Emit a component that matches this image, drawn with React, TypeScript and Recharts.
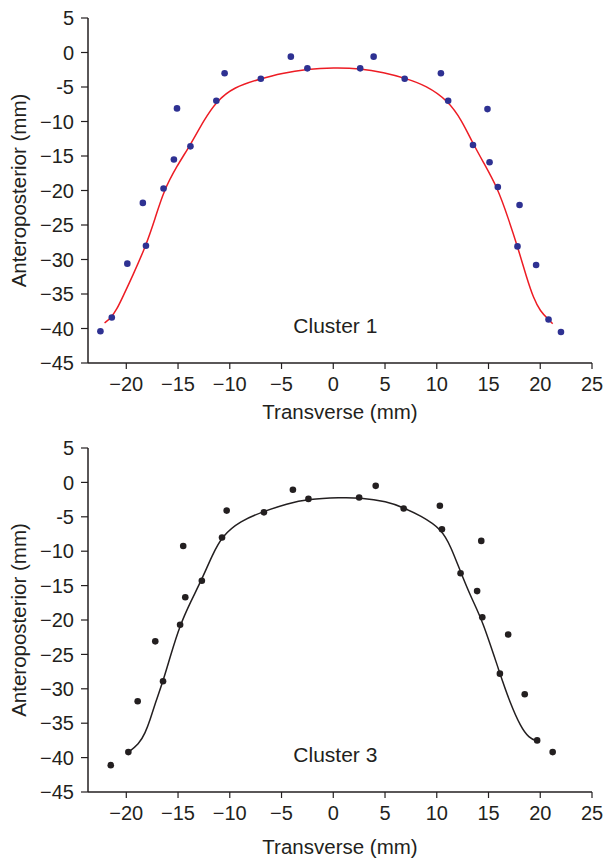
import { ReferenceDot, Scatter, ScatterChart, XAxis, YAxis } from "recharts";

const xTicks = [-20, -15, -10, -5, 0, 5, 10, 15, 20, 25];
const yTicks = [5, 0, -5, -10, -15, -20, -25, -30, -35, -40, -45];

// Cluster 1 measurements (blue dots)
const c1X = [-22.5, -21.4, -19.9, -18.4, -18.1, -16.4, -15.4, -15.1, -13.8, -11.3, -10.5, -7.0, -4.1, -2.5,
  2.6, 3.9, 6.9, 10.4, 11.1, 13.5, 14.9, 15.1, 15.9, 17.8, 18.0, 19.6, 20.8, 22.0];
const c1Y = [-40.4, -38.4, -30.6, -21.8, -28.0, -19.7, -15.5, -8.1, -13.6, -7.0, -3.0, -3.8, -0.6, -2.3,
  -2.3, -0.6, -3.8, -3.0, -7.0, -13.4, -8.2, -15.9, -19.5, -28.1, -22.1, -30.8, -38.7, -40.5];

// Cluster 1 fitted curve (red)
const fit1X = [-22.1, -21.5, -20.9, -20.3, -19.4, -18.1, -17.2, -16.4, -15.1, -13.8, -12.5, -11.3, -9.6, -7.0,
  -5.0, -2.5, 0.0, 2.6, 4.9, 6.9, 9.0, 11.1, 12.4, 13.5, 14.5, 15.9, 16.9, 17.8, 18.7, 19.35, 20.0, 20.8, 21.2];
const fit1Y = [-39.2, -38.5, -37.2, -35.3, -32.4, -28.0, -24.0, -20.1, -16.4, -13.4, -9.8, -7.1, -5.0, -3.8,
  -3.0, -2.4, -2.2, -2.3, -2.9, -3.7, -4.8, -7.0, -9.8, -13.2, -15.9, -19.7, -24.0, -28.1, -32.7, -35.6, -37.5, -38.7, -39.3];

// Cluster 3 measurements (black dots)
const c3X = [-21.5, -19.8, -18.9, -17.2, -16.45, -14.8, -14.5, -14.3, -12.7, -10.75, -10.3, -6.7, -3.9, -2.4,
  2.5, 4.1, 6.8, 10.3, 10.5, 12.3, 13.9, 14.3, 14.4, 16.1, 16.9, 18.5, 19.7, 21.2];
const c3Y = [-41.1, -39.2, -31.8, -23.1, -28.9, -20.7, -9.25, -16.7, -14.3, -8.0, -4.1, -4.35, -1.06, -2.4,
  -2.2, -0.5, -3.8, -3.4, -6.8, -13.2, -15.8, -8.5, -19.6, -27.8, -22.1, -30.8, -37.5, -39.2];

// Cluster 3 fitted curve (black)
const fit3X = [-19.8, -18.8, -18.16, -17.7, -17.2, -16.45, -15.75, -14.8, -13.8, -12.7, -11.7, -10.75, -9.0, -6.7,
  -4.5, -2.4, 0.7, 2.5, 5.2, 6.8, 8.4, 10.5, 11.4, 12.3, 13.4, 14.4, 16.1, 17.1, 18.1, 18.9, 19.7];
const fit3Y = [-39.2, -38.1, -36.4, -34.5, -32.1, -28.9, -25.3, -20.7, -17.4, -14.1, -10.6, -7.8, -5.6, -4.2,
  -3.1, -2.4, -2.2, -2.2, -2.75, -3.7, -4.8, -6.8, -9.5, -13.0, -17.0, -20.0, -27.8, -32.1, -35.5, -37.15, -37.6];

const TEXT = "#231f20";
const FONT = "'Liberation Sans', Arial, sans-serif";

const pairs = (xs: number[], ys: number[]) => xs.map((x, i) => ({ x, y: ys[i] }));

const fmtX = (v: number) => (v < 0 ? `\u2212${Math.abs(v)}` : `${v}`);
// the source uses a plain hyphen on -5 of the vertical axis only
const fmtY = (v: number) => (v === -5 ? "-5" : v < 0 ? `\u2212${Math.abs(v)}` : `${v}`);

interface PanelProps {
  points: { x: number; y: number }[];
  fit: { x: number; y: number }[];
  dotColor: string;
  lineColor: string;
  title: string;
  height: number;
  xLabelDy: number;
}

function Panel({ points, fit, dotColor, lineColor, title, height, xLabelDy }: PanelProps) {
  const tick = { fontSize: 20, fill: TEXT, fontFamily: FONT };
  return (
    <ScatterChart width={604} height={height} margin={{ top: 18, right: 12, bottom: 6, left: 0 }}>
      <XAxis
        type="number"
        dataKey="x"
        domain={[-23.7, 25]}
        ticks={xTicks}
        allowDataOverflow
        tickFormatter={fmtX}
        tick={tick}
        tickSize={6}
        tickMargin={8}
        height={60}
        axisLine={{ stroke: TEXT, strokeWidth: 1.5 }}
        tickLine={{ stroke: TEXT, strokeWidth: 1.2 }}
        label={{
          content: (p: any) => {
            const vb = p.viewBox;
            return (
              <text x={vb.x + vb.width / 2} y={vb.y + xLabelDy} textAnchor="middle" fontSize={20.5} fill={TEXT} fontFamily={FONT}>
                Transverse (mm)
              </text>
            );
          },
        }}
      />
      <YAxis
        type="number"
        dataKey="y"
        domain={[-45, 5]}
        ticks={yTicks}
        allowDataOverflow
        tickFormatter={fmtY}
        tick={tick}
        tickSize={7}
        tickMargin={7}
        width={88}
        axisLine={{ stroke: TEXT, strokeWidth: 1.5 }}
        tickLine={{ stroke: TEXT, strokeWidth: 1.2 }}
        label={{
          content: (p: any) => {
            const vb = p.viewBox;
            const cx = 18;
            const cy = vb.y + vb.height / 2;
            return (
              <text
                x={cx}
                y={cy}
                transform={`rotate(-90 ${cx} ${cy})`}
                textAnchor="middle"
                dominantBaseline="central"
                fontSize={20.5}
                fill={TEXT}
                fontFamily={FONT}
              >
                Anteroposterior (mm)
              </text>
            );
          },
        }}
      />
      <Scatter
        data={fit}
        line={{ stroke: lineColor, strokeWidth: 1.5 }}
        lineJointType="basis"
        shape={() => <g />}
        isAnimationActive={false}
      />
      <Scatter
        data={points}
        shape={(p: any) => <circle cx={p.cx} cy={p.cy} r={3.3} fill={dotColor} />}
        isAnimationActive={false}
      />
      <ReferenceDot
        x={0.2}
        y={-39.5}
        r={1}
        fill="none"
        stroke="none"
        label={{ value: title, position: "center", fontSize: 21, fill: TEXT, fontFamily: FONT }}
      />
    </ScatterChart>
  );
}

export default function App() {
  return (
    <div style={{ position: "absolute", left: 0, top: 0, width: 604, height: 858, background: "#fff" }}>
      <Panel
        points={pairs(c1X, c1Y)}
        fit={pairs(fit1X, fit1Y)}
        dotColor="#2e3192"
        lineColor="#ed1c24"
        title="Cluster 1"
        height={429}
        xLabelDy={56}
      />
      <div style={{ position: "absolute", left: 0, top: 430 }}>
        <Panel
          points={pairs(c3X, c3Y)}
          fit={pairs(fit3X, fit3Y)}
          dotColor="#231f20"
          lineColor="#231f20"
          title="Cluster 3"
          height={428}
          xLabelDy={62}
        />
      </div>
    </div>
  );
}
